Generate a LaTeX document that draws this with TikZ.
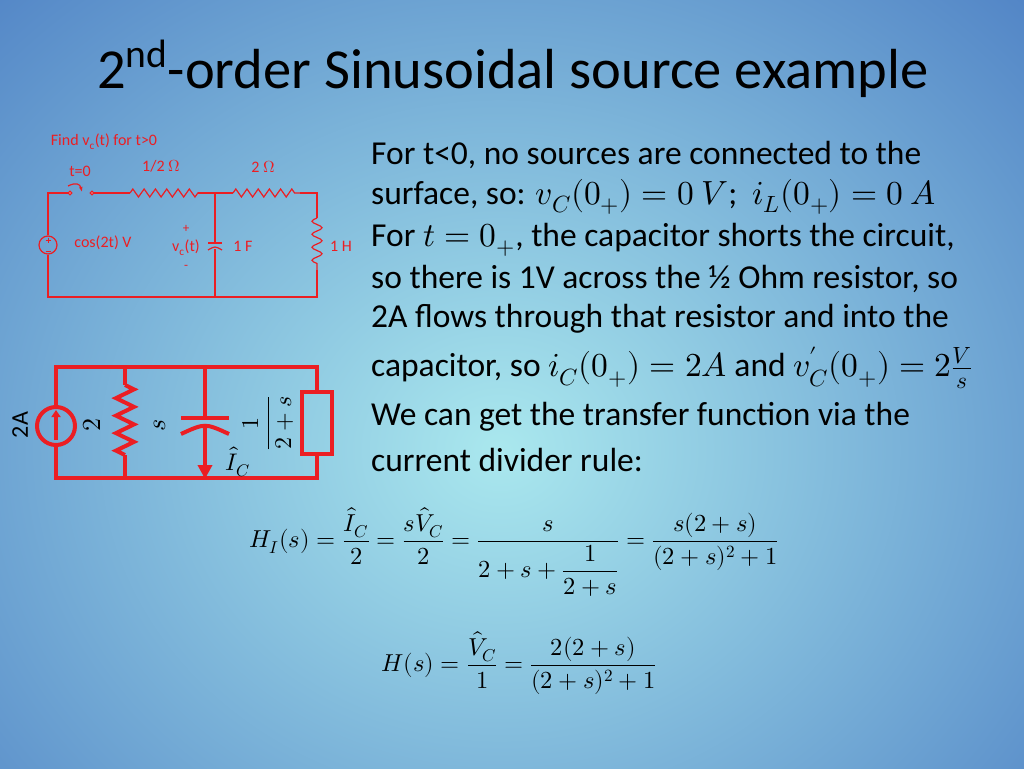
\documentclass[tikz,border=0pt]{standalone}
\usepackage{amsmath}
\usepackage{fontspec}
\usepackage{unicode-math}
\setmainfont{Carlito}
\setmathfont{Latin Modern Math}
\usetikzlibrary{decorations.pathmorphing,arrows.meta}
\definecolor{cred}{RGB}{235,30,35}
\definecolor{bgdark}{RGB}{75,125,195}
\definecolor{bglight}{RGB}{170,232,238}
\begin{document}
\begin{tikzpicture}[x=1pt,y=-1pt,
  w1/.style={draw=cred,line width=1.2pt},
  w2/.style={draw=cred,line width=4pt},
  st/.style={text=cred,font=\fontsize{16}{18}\selectfont,inner sep=0},
  body/.style={anchor=west,font=\fontsize{33.5}{38}\selectfont,inner sep=0}]
\useasboundingbox (0,0) rectangle (1024,768);
\begin{scope}
\clip (0,0) rectangle (1024,768);
\shade[inner color=bglight,outer color=bgdark] (-300,-250) rectangle (1300,1150);
\end{scope}
\node[anchor=base west,font=\fontsize{56.5}{60}\selectfont,inner sep=0] (title) at (97,88) {2\textsuperscript{nd}-order Sinusoidal source example};
% circuit 1
\coordinate (a) at (48,193); \coordinate (sw1) at (70,193); \coordinate (sw2) at (92,193);
\coordinate (r1a) at (130,193); \coordinate (r1b) at (198,193); \coordinate (n) at (215,193);
\coordinate (r2a) at (233,193); \coordinate (r2b) at (300,193); \coordinate (b) at (317,193);
\coordinate (la) at (317,218); \coordinate (lb) at (317,270);
\coordinate (c) at (317,297); \coordinate (nb) at (215,297); \coordinate (d) at (48,297);
\node[w1,circle,minimum size=18pt,inner sep=0] (src) at (48,245) {};
\draw[w1] (src) -- (a) -- (sw1); \draw[w1] (sw2) -- (r1a);
\draw[w1,decorate,decoration={zigzag,segment length=11.3pt,amplitude=4pt}] (r1a) -- (r1b);
\draw[w1] (r1b) -- (r2a);
\draw[w1,decorate,decoration={zigzag,segment length=11.2pt,amplitude=4pt}] (r2a) -- (r2b);
\draw[w1] (r2b) -- (b) -- (la);
\draw[w1,decorate,decoration={coil,aspect=0,segment length=13pt,amplitude=5pt,mirror}] (la) -- (lb);
\draw[w1] (lb) -- (c) -- (d) -- (src);
\draw[w1] (n) -- (215,243); \draw[w1] (215,249) -- (nb);
\draw[w1] (208,243) -- (222,243); \draw[w1] (208,250) .. controls (215,246) .. (222,250);
\draw[w1,fill=white] (sw1) circle (1.8pt); \draw[w1,fill=white] (sw2) circle (1.8pt);
\draw[w1,-{Latex[length=5pt]}] (68,186) .. controls (76,182) and (80,184) .. (82,192);
\draw[w1,line width=0.8pt] (45.5,240) -- (50.5,240) (48,237.5) -- (48,242.5);
\draw[w1,line width=0.8pt] (45.5,251) -- (50.5,251);
\node[st] (find) at (104,142) {Find v\textsubscript{c}(t) for t>0};
\node[st] (t0) at (80,171) {t=0};
\node[st] (l1) at (161,166) {1/2 $\Omega$};
\node[st] (l2) at (263,167) {2 $\Omega$};
\node[st] (lv) at (103,243) {cos(2t) V};
\node[st,font=\fontsize{13}{14}\selectfont] at (186,229) {+};
\node[st] at (186,248) {v\textsubscript{c}(t)};
\node[st,font=\fontsize{13}{14}\selectfont] at (186,267) {-};
\node[st] at (243,246) {1 F};
\node[st] at (341,246) {1 H};
% circuit 2
\node[w2,circle,minimum size=38pt,inner sep=0] (cs) at (56,426) {};
\draw[w2,-{Triangle[length=7pt,width=9pt]}] (56,440) -- (56,410);
\coordinate (t1) at (56,367); \coordinate (t2) at (317,367);
\coordinate (b1) at (56,478); \coordinate (b2) at (317,478);
\draw[w2] (cs) -- (t1) -- (t2) -- (317,392);
\draw[w2] (cs) -- (b1) -- (b2) -- (317,455);
\node[w2,minimum width=30pt,minimum height=62pt,inner sep=0] (box) at (317,423) {};
\draw[w2] (125,367) -- (125,385);
\draw[w2,decorate,decoration={zigzag,segment length=17.5pt,amplitude=9pt}] (125,385) -- (125,455);
\draw[w2] (125,455) -- (125,478);
\draw[w2] (205,367) -- (205,418); \draw[w2] (181,418) -- (229,418);
\draw[w2] (181,434) .. controls (205,423) .. (229,434);
\draw[w2,-{Triangle[length=14pt,width=14pt]}] (205,428) -- (205,479);
\node[rotate=90,font=\fontsize{24}{26}\selectfont,inner sep=0] at (20,425) {2A};
\node[rotate=90,font=\fontsize{26}{26}\selectfont,inner sep=0] at (92,425) {$2$};
\node[rotate=90,font=\fontsize{26}{26}\selectfont,inner sep=0] at (160,425) {$s$};
\node[rotate=90,font=\fontsize{24}{26}\selectfont,inner sep=0] at (268,423) {$\dfrac{1}{2+s}$};
\node[font=\fontsize{24}{26}\selectfont,inner sep=0] at (238,462) {$\hat{I}_C$};
% text
\node[body] at (371,155) {For t<0, no sources are connected to the};
\node[body] at (371,197) {surface, so: $v_C(0_+)=0\ V$; $\ i_L(0_+)=0\ A$};
\node[body] at (371,240) {For $t=0_+$, the capacitor shorts the circuit,};
\node[body] at (371,279) {so there is 1V across the ½ Ohm resistor, so};
\node[body] at (371,319) {2A flows through that resistor and into the};
\node[body] at (371,368) {capacitor, so $i_C(0_+)=2A$ and $v_C'(0_+)=2\frac{V}{s}$};
\node[body] at (371,417) {We can get the transfer function via the};
\node[body] at (371,460) {current divider rule:};
\node[font=\fontsize{24.5}{30}\selectfont,inner sep=0] (h1) at (514,552)
 {$H_I(s)=\dfrac{\hat{I}_C}{2}=\dfrac{s\hat{V}_C}{2}=\dfrac{s}{2+s+\dfrac{1}{2+s}}=\dfrac{s(2+s)}{(2+s)^2+1}$};
\node[font=\fontsize{24.5}{30}\selectfont,inner sep=0] (h2) at (519,663)
 {$H(s)=\dfrac{\hat{V}_C}{1}=\dfrac{2(2+s)}{(2+s)^2+1}$};
\end{tikzpicture}
\end{document}
